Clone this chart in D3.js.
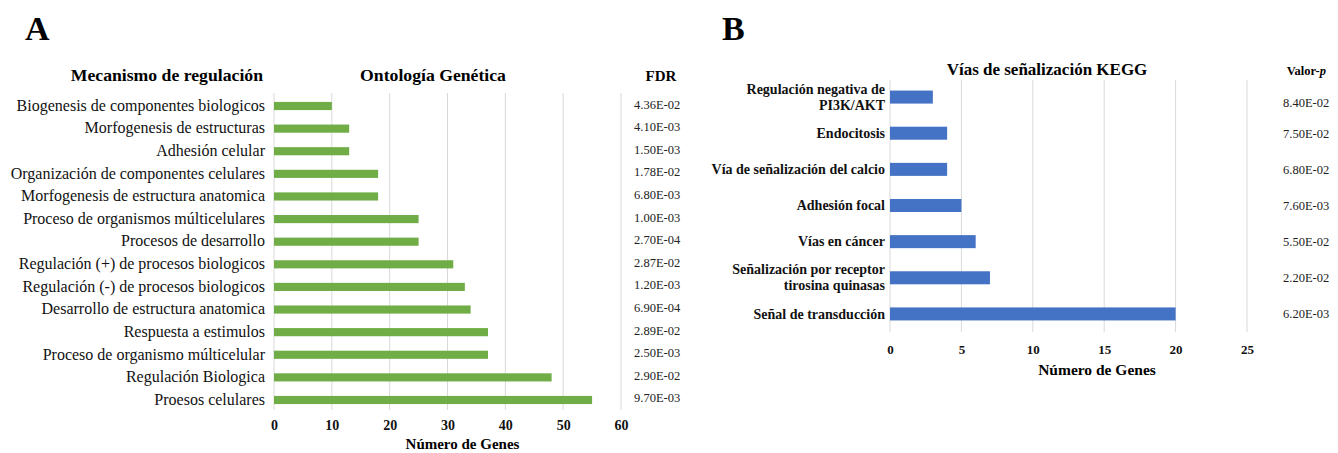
<!DOCTYPE html>
<html><head><meta charset="utf-8">
<script src="https://cdn.jsdelivr.net/npm/d3@7"></script>
<style>
body{margin:0;background:#fff;}
svg{display:block;font-family:"Liberation Serif","Times New Roman",serif;}
</style></head>
<body>
<svg id="c" width="1338" height="453"></svg>
<script>
// Panel A data
const goTerms = ["Biogenesis de componentes biologicos","Morfogenesis de estructuras","Adhesión celular","Organización de componentes celulares","Morfogenesis de estructura anatomica","Proceso de organismos múlticelulares","Procesos de desarrollo","Regulación (+) de procesos biologicos","Regulación (-) de procesos biologicos","Desarrollo de estructura anatomica","Respuesta a estimulos","Proceso de organismo múlticelular","Regulación Biologica","Proesos celulares"];
const goGenes = [10,13,13,18,18,25,25,31,33,34,37,37,48,55];
const goFDR = ["4.36E-02","4.10E-03","1.50E-03","1.78E-02","6.80E-03","1.00E-03","2.70E-04","2.87E-02","1.20E-03","6.90E-04","2.89E-02","2.50E-03","2.90E-02","9.70E-03"];
const goTicks = [0,10,20,30,40,50,60];
// Panel B data
const keggPaths = [["Regulación negativa de","PI3K/AKT"],["Endocitosis"],["Vía de señalización del calcio"],["Adhesión focal"],["Vías en cáncer"],["Señalización por receptor","tirosina quinasas"],["Señal de transducción"]];
const keggGenes = [3,4,4,5,6,7,20];
const keggP = ["8.40E-02","7.50E-02","6.80E-02","7.60E-03","5.50E-02","2.20E-02","6.20E-03"];
const keggTicks = [0,5,10,15,20,25];

const svg = d3.select("#c");
const green = "#70AD47", blue = "#4472C4", grid = "#d9d9d9";

// ---------- Panel A ----------
svg.append("text").attr("x",25).attr("y",40).attr("font-size",34).attr("font-weight","bold").text("A");
const xA = d3.scaleLinear().domain([0,60]).range([274,621]);
const yA = d3.scaleBand().domain(goTerms).range([94.7,411.3]).paddingInner(0.64).paddingOuter(0.32);
const gA = svg.append("g");
gA.selectAll("line.g").data(goTicks).join("line")
  .attr("x1",d=>xA(d)).attr("x2",d=>xA(d)).attr("y1",93).attr("y2",410)
  .attr("stroke",grid).attr("stroke-width",1);
gA.selectAll("rect").data(goTerms).join("rect")
  .attr("x",xA(0)).attr("y",d=>yA(d)).attr("height",yA.bandwidth())
  .attr("width",(d,i)=>xA(goGenes[i])-xA(0)).attr("fill",green);
gA.selectAll("text.lab").data(goTerms).join("text").attr("class","lab")
  .attr("x",265).attr("y",d=>yA(d)+yA.bandwidth()/2).attr("dy","0.3em")
  .attr("text-anchor","end").attr("font-size",16).attr("fill","#111").text(d=>d);
gA.selectAll("text.fdr").data(goTerms).join("text").attr("class","fdr")
  .attr("x",634).attr("y",d=>yA(d)+yA.bandwidth()/2).attr("dy","0.2em")
  .attr("font-size",12.5).attr("fill","#222").text((d,i)=>goFDR[i]);
const axA = d3.axisBottom(xA).tickValues(goTicks).tickSize(0).tickPadding(0);
const gaxA = gA.append("g").attr("transform","translate(0,425)").call(axA);
gaxA.select(".domain").remove();
gaxA.selectAll("text").attr("font-size",14).attr("font-weight","bold").attr("font-family","Liberation Serif, serif").attr("dy","0.35em").attr("fill","#111");
gA.append("text").attr("x",(xA(0)+xA(60))/2+15).attr("y",449).attr("text-anchor","middle").attr("font-size",15).attr("font-weight","bold").text("Número de Genes");
gA.append("text").attr("x",263).attr("y",81).attr("text-anchor","end").attr("font-size",17.7).attr("font-weight","bold").text("Mecanismo de regulación");
gA.append("text").attr("x",433).attr("y",81).attr("text-anchor","middle").attr("font-size",17.7).attr("font-weight","bold").text("Ontología Genética");
gA.append("text").attr("x",661).attr("y",81).attr("text-anchor","middle").attr("font-size",15).attr("font-weight","bold").text("FDR");

// ---------- Panel B ----------
svg.append("text").attr("x",722).attr("y",40).attr("font-size",34).attr("font-weight","bold").text("B");
const xB = d3.scaleLinear().domain([0,25]).range([890,1247]);
const keys = keggPaths.map(d=>d.join(" "));
const yB = d3.scaleBand().domain(keys).range([79,332]).paddingInner(0.64).paddingOuter(0.32);
const gB = svg.append("g");
gB.selectAll("line.g").data(keggTicks).join("line")
  .attr("x1",d=>xB(d)).attr("x2",d=>xB(d)).attr("y1",80).attr("y2",332)
  .attr("stroke",grid).attr("stroke-width",1);
gB.selectAll("rect").data(keys).join("rect")
  .attr("x",xB(0)).attr("y",d=>yB(d)).attr("height",yB.bandwidth())
  .attr("width",(d,i)=>xB(keggGenes[i])-xB(0)).attr("fill",blue);
keggPaths.forEach((lines,i)=>{
  const cy = yB(keys[i])+yB.bandwidth()/2;
  const t = gB.append("text").attr("x",885).attr("text-anchor","end").attr("font-size",14).attr("font-weight","bold").attr("fill","#111");
  lines.forEach((ln,j)=>{
    t.append("tspan").attr("x",885).attr("y",cy+(j-(lines.length-1)/2)*16).attr("dy","0.33em").text(ln);
  });
});
gB.selectAll("text.pv").data(keys).join("text").attr("class","pv")
  .attr("x",1283).attr("y",(d,i)=>yB(d)+yB.bandwidth()/2+(i===0?6:0)).attr("dy","0.35em")
  .attr("font-size",12.5).attr("fill","#222").text((d,i)=>keggP[i]);
const axB = d3.axisBottom(xB).tickValues(keggTicks).tickSize(0).tickPadding(0);
const gaxB = gB.append("g").attr("transform","translate(0,349)").call(axB);
gaxB.select(".domain").remove();
gaxB.selectAll("text").attr("font-size",13).attr("font-weight","bold").attr("font-family","Liberation Serif, serif").attr("dy","0.35em").attr("fill","#111");
gB.append("text").attr("x",1097).attr("y",375).attr("text-anchor","middle").attr("font-size",15.5).attr("font-weight","bold").text("Número de Genes");
gB.append("text").attr("x",1047).attr("y",75).attr("text-anchor","middle").attr("font-size",17).attr("font-weight","bold").text("Vías de señalización KEGG");
const vp = gB.append("text").attr("x",1326).attr("y",75).attr("text-anchor","end").attr("font-size",12.5).attr("font-weight","bold");
vp.append("tspan").text("Valor-");
vp.append("tspan").attr("font-style","italic").text("p");
</script>
</body></html>
